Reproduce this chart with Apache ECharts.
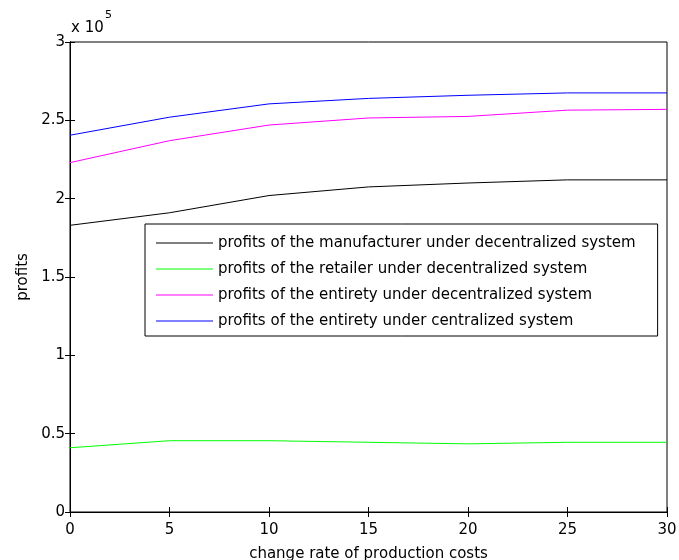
<!DOCTYPE html>
<html>
<head>
<meta charset="utf-8">
<script src="https://cdn.jsdelivr.net/npm/echarts@6/dist/echarts.min.js"></script>
<style>html,body{margin:0;padding:0;background:#fff}#c{width:679px;height:560px}</style>
</head>
<body>
<div id="c"></div>
<script>
var xValues = [0, 5, 10, 15, 20, 25, 30];
var manufacturerDec = [183000, 191000, 202000, 207500, 210000, 212000, 212000];
var retailerDec = [41000, 45500, 45500, 44500, 43500, 44500, 44500];
var entiretyDec = [223000, 237000, 247000, 251500, 252500, 256500, 257000];
var entiretyCen = [240500, 252000, 260500, 264000, 266000, 267500, 267500];
var seriesNames = [
  'profits of the manufacturer under decentralized system',
  'profits of the retailer under decentralized system',
  'profits of the entirety under decentralized system',
  'profits of the entirety under centralized system'
];
var seriesColors = ['#000000', '#00ff00', '#ff00ff', '#0000ff'];
var seriesData = [manufacturerDec, retailerDec, entiretyDec, entiretyCen];

var FONT = 'DejaVu Sans, sans-serif';
var FS = 15;
var chart = echarts.init(document.getElementById('c'));
function pairs(arr) { return xValues.map(function (x, i) { return [x, arr[i]]; }); }

var series = seriesData.map(function (d, i) {
  return {
    name: seriesNames[i], type: 'line', data: pairs(d), symbol: 'none',
    lineStyle: { color: seriesColors[i], width: 1 }, itemStyle: { color: seriesColors[i] },
    animation: false, xAxisIndex: 0, yAxisIndex: 0
  };
});

var tickStyle = { show: true, inside: true, length: 5, lineStyle: { color: '#000', width: 1 } };
chart.setOption({
  backgroundColor: '#fff',
  animation: false,
  textStyle: { fontFamily: FONT, color: '#000' },
  grid: { left: 70, right: 12, top: 42, bottom: 48, show: true, borderColor: '#000', borderWidth: 1,
          containLabel: false, outerBoundsMode: 'none' },
  xAxis: [{
    type: 'value', min: 0, max: 30, interval: 5, position: 'bottom',
    name: 'change rate of production costs', nameLocation: 'middle', nameGap: 35,
    nameTextStyle: { fontSize: FS, color: '#000', fontFamily: FONT },
    axisLine: { lineStyle: { color: '#000', width: 1 } },
    axisTick: tickStyle, splitLine: { show: false },
    axisLabel: { fontSize: FS, color: '#000', margin: 11, fontFamily: FONT }
  }, {
    type: 'value', min: 0, max: 30, interval: 5, position: 'top',
    axisLine: { lineStyle: { color: '#000', width: 1 } },
    axisTick: tickStyle, splitLine: { show: false }, axisLabel: { show: false }
  }],
  yAxis: [{
    type: 'value', min: 0, max: 300000, interval: 50000, position: 'left',
    name: 'profits', nameLocation: 'middle', nameGap: 38, nameRotate: 90,
    nameTextStyle: { fontSize: FS, color: '#000', fontFamily: FONT },
    axisLine: { show: true, lineStyle: { color: '#000', width: 1 } },
    axisTick: tickStyle, splitLine: { show: false },
    axisLabel: { fontSize: FS, color: '#000', margin: 5, fontFamily: FONT,
      formatter: function (v) { return String(v / 100000); } }
  }, {
    type: 'value', min: 0, max: 300000, interval: 50000, position: 'right',
    axisLine: { show: true, lineStyle: { color: '#000', width: 1 } },
    axisTick: tickStyle, splitLine: { show: false }, axisLabel: { show: false }
  }],
  legend: {
    orient: 'vertical', left: 145, top: 224, icon: 'rect',
    backgroundColor: '#fff', borderColor: '#000', borderWidth: 1,
    padding: [9, 22, 5, 11], itemGap: 6, itemWidth: 57, itemHeight: 1,
    textStyle: { fontSize: FS, color: '#000', fontFamily: FONT, lineHeight: 20 },
    data: seriesNames
  },
  graphic: [{
    type: 'text', left: 71, top: 21,
    style: { text: 'x 10', fontSize: FS, fontFamily: FONT, fill: '#000' }
  }, {
    type: 'text', left: 105, top: 10,
    style: { text: '5', fontSize: 11, fontFamily: FONT, fill: '#000' }
  }],
  series: series
});
</script>
</body>
</html>
